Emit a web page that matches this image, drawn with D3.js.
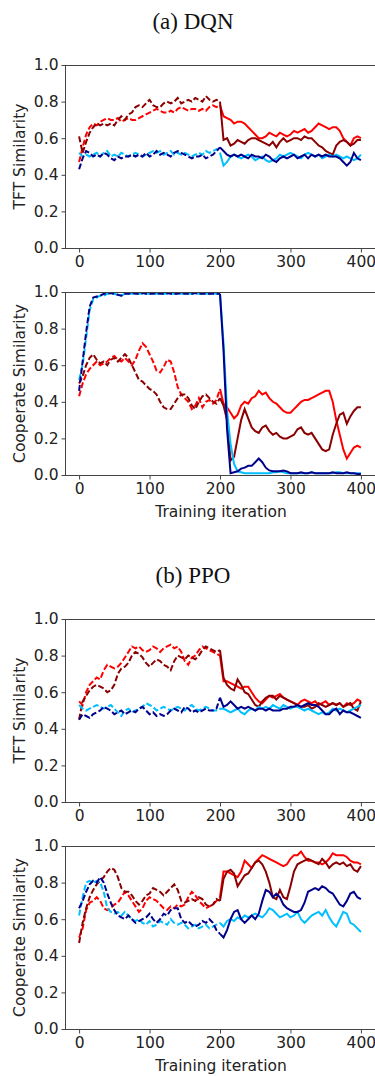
<!DOCTYPE html>
<html>
<head>
<meta charset="utf-8">
<script src="https://cdn.jsdelivr.net/npm/d3@7"></script>
<style>
  body { margin: 0; background: #fff; }
  svg { display: block; }
  .tick text { font-family: "DejaVu Sans", sans-serif; font-size: 15.5px; fill: #222; }
</style>
</head>
<body>
<div id="viz"></div>
<script>
// x positions: training iteration, sampled every 5 steps
const iterations = d3.range(0, 401, 5);
const xTicks = [0, 100, 200, 300, 400];
const yTicks = [0, 0.2, 0.4, 0.6, 0.8, 1.0];

// (a) DQN - TFT similarity
const dqnTftRed = [
  0.47,0.55,0.62,0.66,0.68,0.67,0.69,0.70,0.71,0.70,
  0.70,0.71,0.69,0.70,0.71,0.70,0.70,0.71,0.72,0.73,
  0.74,0.75,0.76,0.75,0.74,0.74,0.75,0.74,0.76,0.77,
  0.76,0.75,0.76,0.76,0.75,0.76,0.75,0.77,0.78,0.77,
  0.78,
  0.72,0.71,0.70,0.68,0.69,0.69,0.68,0.66,0.64,
  0.62,0.60,0.60,0.61,0.63,0.62,0.61,0.63,0.62,0.61,
  0.62,0.64,0.63,0.64,0.65,0.63,0.64,0.66,0.68,0.67,
  0.66,0.65,0.66,0.66,0.64,0.60,0.58,0.56,0.60,0.61,
  0.60];
const dqnTftDarkRed = [
  0.61,0.52,0.58,0.63,0.66,0.68,0.67,0.68,0.67,0.68,
  0.67,0.70,0.72,0.70,0.73,0.74,0.77,0.78,0.77,0.79,
  0.81,0.78,0.77,0.77,0.79,0.80,0.79,0.80,0.82,0.79,
  0.80,0.81,0.80,0.82,0.81,0.80,0.83,0.81,0.80,0.81,
  0.80,
  0.59,0.60,0.56,0.57,0.59,0.58,0.57,0.59,0.60,
  0.60,0.59,0.58,0.57,0.56,0.58,0.55,0.58,0.60,0.58,
  0.59,0.60,0.60,0.59,0.61,0.60,0.60,0.58,0.56,0.55,
  0.53,0.52,0.51,0.56,0.58,0.59,0.58,0.56,0.57,0.59,
  0.59];
const dqnTftLightBlue = [
  0.52,0.50,0.51,0.50,0.51,0.52,0.50,0.52,0.53,0.50,
  0.51,0.50,0.52,0.51,0.50,0.51,0.52,0.51,0.50,0.51,
  0.52,0.53,0.52,0.53,0.51,0.52,0.53,0.51,0.52,0.51,
  0.52,0.51,0.50,0.51,0.52,0.51,0.53,0.52,0.53,0.54,
  0.52,
  0.45,0.47,0.50,0.51,0.50,0.49,0.50,0.51,0.50,
  0.48,0.49,0.50,0.48,0.47,0.48,0.49,0.51,0.50,0.51,
  0.52,0.51,0.50,0.49,0.51,0.52,0.51,0.50,0.51,0.49,
  0.50,0.51,0.50,0.51,0.50,0.49,0.50,0.49,0.48,0.49,
  0.51];
const dqnTftDarkBlue = [
  0.43,0.49,0.53,0.52,0.50,0.51,0.50,0.52,0.51,0.49,
  0.48,0.50,0.49,0.50,0.50,0.51,0.50,0.51,0.50,0.52,
  0.50,0.51,0.53,0.51,0.52,0.51,0.50,0.52,0.53,0.52,
  0.51,0.50,0.49,0.50,0.50,0.51,0.49,0.50,0.51,0.53,
  0.55,
  0.53,0.51,0.50,0.51,0.50,0.51,0.50,0.49,0.51,
  0.50,0.50,0.49,0.51,0.50,0.48,0.47,0.49,0.50,0.49,
  0.50,0.51,0.49,0.50,0.51,0.49,0.51,0.50,0.51,0.50,
  0.51,0.50,0.50,0.50,0.49,0.47,0.45,0.47,0.52,0.49,
  0.48];

// (a) DQN - cooperate similarity
const dqnCoopRed = [
  0.43,0.50,0.55,0.58,0.60,0.62,0.60,0.61,0.62,0.64,
  0.65,0.63,0.62,0.64,0.62,0.60,0.63,0.68,0.72,0.70,
  0.66,0.62,0.57,0.56,0.59,0.63,0.62,0.56,0.48,0.44,
  0.42,0.40,0.36,0.38,0.42,0.37,0.40,0.41,0.39,0.41,
  0.47,
  0.39,0.37,0.34,0.31,0.33,0.38,0.40,0.39,0.42,
  0.43,0.46,0.44,0.45,0.42,0.40,0.39,0.37,0.35,0.34,
  0.34,0.36,0.38,0.40,0.41,0.41,0.42,0.43,0.44,0.45,
  0.46,0.46,0.40,0.30,0.22,0.14,0.09,0.12,0.15,0.16,
  0.15];
const dqnCoopDarkRed = [
  0.50,0.54,0.60,0.64,0.66,0.63,0.61,0.62,0.60,0.63,
  0.64,0.62,0.64,0.66,0.64,0.60,0.56,0.52,0.51,0.49,
  0.47,0.46,0.44,0.40,0.37,0.36,0.36,0.39,0.42,0.44,
  0.44,0.42,0.38,0.36,0.40,0.43,0.44,0.42,0.40,0.39,
  0.42,
  0.38,0.30,0.08,0.10,0.20,0.30,0.36,0.31,0.26,
  0.24,0.23,0.26,0.27,0.24,0.22,0.23,0.21,0.20,0.20,
  0.21,0.22,0.25,0.26,0.23,0.22,0.23,0.20,0.17,0.14,
  0.13,0.14,0.22,0.28,0.33,0.34,0.28,0.32,0.35,0.37,
  0.37];
const dqnCoopLightBlue = [
  0.52,0.60,0.75,0.90,0.96,0.97,0.98,0.98,0.99,0.99,
  0.99,0.985,0.98,0.99,0.99,0.99,0.99,0.99,0.99,0.99,
  0.99,0.99,0.99,0.99,0.99,0.99,0.99,0.99,0.99,0.99,
  0.99,0.99,0.99,0.99,0.99,0.99,0.99,0.99,0.99,0.99,
  0.99,
  0.72,0.35,0.17,0.06,0.02,0.015,0.01,0.01,0.01,
  0.01,0.01,0.01,0.01,0.01,0.015,0.015,0.02,0.015,0.01,
  0.01,0.01,0.01,0.01,0.01,0.01,0.015,0.01,0.01,0.01,
  0.01,0.01,0.01,0.015,0.015,0.01,0.01,0.01,0.01,0.01,
  0.01];
const dqnCoopDarkBlue = [
  0.46,0.62,0.78,0.92,0.97,0.975,0.98,0.99,0.99,0.995,
  0.99,0.985,0.98,0.99,0.99,0.995,0.99,0.99,0.995,0.99,
  0.99,0.99,0.995,0.99,0.99,0.995,0.99,0.99,0.99,0.995,
  0.99,0.99,0.99,0.995,0.99,0.99,0.99,0.99,0.99,0.99,
  0.99,
  0.68,0.25,0.01,0.015,0.02,0.035,0.04,0.05,0.05,
  0.07,0.09,0.07,0.04,0.025,0.02,0.02,0.02,0.025,0.02,
  0.01,0.01,0.01,0.015,0.01,0.01,0.015,0.01,0.01,0.01,
  0.01,0.01,0.015,0.01,0.01,0.01,0.015,0.01,0.01,0.005,
  0.005];

// (b) PPO - TFT similarity
const ppoTftRed = [
  0.55,0.53,0.60,0.64,0.66,0.68,0.67,0.72,0.75,0.74,
  0.73,0.74,0.76,0.79,0.82,0.85,0.84,0.85,0.83,0.82,
  0.83,0.85,0.84,0.82,0.84,0.85,0.86,0.84,0.85,0.82,
  0.77,0.75,0.79,0.80,0.83,0.85,0.84,0.83,0.82,0.81,
  0.80,
  0.66,0.66,0.65,0.64,0.63,0.62,0.63,0.63,0.60,
  0.57,0.55,0.54,0.56,0.58,0.57,0.58,0.59,0.57,0.56,
  0.55,0.54,0.53,0.55,0.56,0.55,0.54,0.55,0.53,0.54,
  0.55,0.53,0.54,0.53,0.54,0.52,0.54,0.53,0.54,0.56,
  0.55];
const ppoTftDarkRed = [
  0.45,0.55,0.58,0.61,0.63,0.64,0.63,0.62,0.60,0.61,
  0.64,0.70,0.73,0.74,0.76,0.80,0.82,0.81,0.79,0.76,
  0.74,0.76,0.78,0.77,0.75,0.74,0.72,0.77,0.80,0.79,
  0.78,0.80,0.79,0.78,0.80,0.83,0.85,0.84,0.83,0.82,
  0.83,
  0.68,0.64,0.62,0.61,0.67,0.64,0.60,0.59,0.56,
  0.53,0.52,0.55,0.57,0.58,0.58,0.56,0.58,0.57,0.56,
  0.55,0.54,0.53,0.52,0.52,0.53,0.51,0.52,0.54,0.53,
  0.52,0.53,0.54,0.53,0.54,0.52,0.53,0.54,0.51,0.50,
  0.55];
const ppoTftLightBlue = [
  0.53,0.51,0.50,0.51,0.52,0.53,0.52,0.51,0.52,0.53,
  0.51,0.49,0.47,0.50,0.51,0.49,0.50,0.51,0.52,0.54,
  0.53,0.52,0.50,0.51,0.52,0.51,0.50,0.51,0.52,0.51,
  0.50,0.52,0.53,0.51,0.50,0.51,0.52,0.51,0.50,0.50,
  0.51,
  0.51,0.50,0.49,0.50,0.51,0.49,0.48,0.50,0.51,
  0.50,0.52,0.51,0.52,0.51,0.53,0.52,0.51,0.53,0.52,
  0.51,0.52,0.52,0.51,0.50,0.51,0.50,0.49,0.48,0.49,
  0.48,0.49,0.51,0.50,0.51,0.50,0.49,0.50,0.51,0.52,
  0.53];
const ppoTftDarkBlue = [
  0.45,0.48,0.47,0.46,0.48,0.49,0.50,0.52,0.51,0.50,
  0.48,0.49,0.50,0.48,0.49,0.50,0.49,0.51,0.52,0.50,
  0.48,0.49,0.47,0.48,0.47,0.48,0.50,0.51,0.50,0.49,
  0.52,0.51,0.49,0.50,0.49,0.50,0.51,0.50,0.50,0.51,
  0.57,
  0.52,0.53,0.55,0.53,0.51,0.52,0.51,0.52,0.51,
  0.50,0.51,0.51,0.50,0.51,0.50,0.50,0.50,0.51,0.51,
  0.52,0.52,0.53,0.52,0.53,0.54,0.53,0.53,0.52,0.50,
  0.48,0.48,0.50,0.51,0.48,0.50,0.49,0.49,0.48,0.47,
  0.46];

// (b) PPO - cooperate similarity
const ppoCoopRed = [
  0.50,0.55,0.65,0.69,0.70,0.72,0.70,0.66,0.65,0.66,
  0.68,0.69,0.72,0.75,0.73,0.70,0.67,0.64,0.66,0.70,
  0.72,0.71,0.70,0.68,0.66,0.65,0.67,0.66,0.68,0.67,
  0.68,0.72,0.75,0.73,0.70,0.68,0.66,0.67,0.68,0.70,
  0.72,
  0.86,0.86,0.85,0.84,0.83,0.86,0.92,0.90,0.88,
  0.91,0.93,0.95,0.94,0.93,0.92,0.91,0.90,0.89,0.90,
  0.93,0.95,0.95,0.97,0.94,0.92,0.92,0.91,0.91,0.90,
  0.91,0.93,0.96,0.95,0.95,0.95,0.94,0.92,0.91,0.91,
  0.90];
const ppoCoopDarkRed = [
  0.47,0.58,0.66,0.72,0.76,0.79,0.81,0.83,0.86,0.88,
  0.87,0.83,0.77,0.75,0.75,0.73,0.70,0.68,0.70,0.73,
  0.74,0.77,0.76,0.75,0.73,0.75,0.77,0.79,0.76,0.70,
  0.69,0.70,0.71,0.70,0.72,0.71,0.68,0.67,0.68,0.71,
  0.70,
  0.82,0.86,0.87,0.85,0.78,0.81,0.84,0.85,0.88,
  0.91,0.92,0.90,0.86,0.80,0.72,0.71,0.76,0.72,0.71,
  0.78,0.86,0.90,0.91,0.92,0.93,0.92,0.91,0.90,0.93,
  0.91,0.88,0.90,0.91,0.90,0.91,0.89,0.90,0.87,0.86,
  0.89];
const ppoCoopLightBlue = [
  0.62,0.72,0.80,0.81,0.80,0.81,0.80,0.75,0.66,0.64,
  0.63,0.64,0.62,0.64,0.62,0.60,0.59,0.60,0.58,0.57,
  0.59,0.56,0.57,0.59,0.58,0.57,0.60,0.58,0.57,0.58,
  0.57,0.55,0.56,0.57,0.55,0.56,0.57,0.55,0.56,0.57,
  0.58,
  0.56,0.59,0.60,0.59,0.61,0.60,0.62,0.61,0.62,
  0.63,0.62,0.61,0.63,0.66,0.65,0.63,0.61,0.62,0.63,
  0.61,0.62,0.64,0.60,0.58,0.60,0.62,0.63,0.64,0.62,
  0.65,0.61,0.58,0.56,0.60,0.64,0.63,0.58,0.57,0.55,
  0.53];
const ppoCoopDarkBlue = [
  0.66,0.70,0.75,0.79,0.81,0.80,0.83,0.80,0.74,0.69,
  0.65,0.62,0.61,0.60,0.62,0.60,0.58,0.59,0.60,0.61,
  0.63,0.60,0.58,0.60,0.63,0.62,0.65,0.66,0.66,0.60,
  0.58,0.59,0.57,0.56,0.57,0.59,0.58,0.60,0.58,0.54,
  0.52,
  0.50,0.54,0.60,0.64,0.65,0.60,0.58,0.60,0.62,
  0.60,0.63,0.70,0.76,0.75,0.72,0.74,0.72,0.68,0.66,
  0.65,0.64,0.64,0.65,0.69,0.75,0.76,0.77,0.76,0.78,
  0.77,0.75,0.74,0.71,0.68,0.67,0.70,0.74,0.75,0.72,
  0.71];

const colors = { red: '#ff0000', darkRed: '#8b0000', lightBlue: '#00bfff', darkBlue: '#00008b' };

const panels = [
  { title: '(a) DQN', titleY: 21, top: 65, ylabel: 'TFT Similarity', xlabel: false,
    series: [[dqnTftRed, colors.red], [dqnTftDarkRed, colors.darkRed], [dqnTftLightBlue, colors.lightBlue], [dqnTftDarkBlue, colors.darkBlue]] },
  { top: 292, ylabel: 'Cooperate Similarity', xlabel: true,
    series: [[dqnCoopRed, colors.red], [dqnCoopDarkRed, colors.darkRed], [dqnCoopLightBlue, colors.lightBlue], [dqnCoopDarkBlue, colors.darkBlue]] },
  { title: '(b) PPO', titleY: 575, top: 619, ylabel: 'TFT Similarity', xlabel: false,
    series: [[ppoTftRed, colors.red], [ppoTftDarkRed, colors.darkRed], [ppoTftLightBlue, colors.lightBlue], [ppoTftDarkBlue, colors.darkBlue]] },
  { top: 846, ylabel: 'Cooperate Similarity', xlabel: true,
    series: [[ppoCoopRed, colors.red], [ppoCoopDarkRed, colors.darkRed], [ppoCoopLightBlue, colors.lightBlue], [ppoCoopDarkBlue, colors.darkBlue]] }
];

const width = 375, height = 1076;
const plotLeft = 65, plotRight = 375, plotH = 183;
const split = iterations.indexOf(200);

const svg = d3.select('#viz').append('svg')
  .attr('width', width)
  .attr('height', height);

panels.forEach(p => {
  const x = d3.scaleLinear().domain([-20, 420]).range([plotLeft, plotRight]);
  const y = d3.scaleLinear().domain([0, 1]).range([p.top + plotH, p.top]);
  const g = svg.append('g');

  if (p.title) {
    svg.append('text')
      .attr('x', 193).attr('y', p.titleY)
      .attr('text-anchor', 'middle').attr('dominant-baseline', 'central')
      .attr('font-family', '"Liberation Serif", "Times New Roman", serif')
      .attr('font-size', 23).attr('fill', '#111')
      .text(p.title);
  }

  // lines: dashed for first half, solid for second half
  const line = d3.line()
    .x(d => x(d[0]))
    .y(d => y(d[1]));

  p.series.forEach(([vals, col]) => {
    const pts = iterations.map((it, i) => [it, vals[i]]);
    g.append('path')
      .datum(pts.slice(0, split + 1))
      .attr('d', line)
      .attr('fill', 'none')
      .attr('stroke', col)
      .attr('stroke-width', 2)
      .attr('stroke-dasharray', '6,2.5');
    g.append('path')
      .datum(pts.slice(split))
      .attr('d', line)
      .attr('fill', 'none')
      .attr('stroke', col)
      .attr('stroke-width', 2);
  });

  // frame
  svg.append('rect')
    .attr('x', plotLeft + 0.5).attr('y', p.top + 0.5)
    .attr('width', plotRight - plotLeft).attr('height', plotH)
    .attr('fill', 'none').attr('stroke', '#444').attr('stroke-width', 1);

  const yAxis = svg.append('g')
    .attr('transform', `translate(${plotLeft + 0.5},0)`)
    .call(d3.axisLeft(y).tickValues(yTicks).tickFormat(d3.format('.1f')).tickSize(4).tickPadding(3));
  yAxis.select('.domain').remove();

  const xAxis = svg.append('g')
    .attr('transform', `translate(0,${p.top + plotH + 0.5})`)
    .call(d3.axisBottom(x).tickValues(xTicks).tickSize(4).tickPadding(3));
  xAxis.select('.domain').remove();

  svg.selectAll('.tick line').attr('stroke', '#444');

  svg.append('text')
    .attr('transform', `translate(20,${p.top + plotH / 2}) rotate(-90)`)
    .attr('text-anchor', 'middle').attr('dominant-baseline', 'central')
    .attr('font-family', '"DejaVu Sans", sans-serif').attr('font-size', 15.5)
    .attr('fill', '#222')
    .text(p.ylabel);

  if (p.xlabel) {
    svg.append('text')
      .attr('x', (plotLeft + plotRight) / 2 + 1).attr('y', p.top + plotH + 37)
      .attr('text-anchor', 'middle').attr('dominant-baseline', 'central')
      .attr('font-family', '"DejaVu Sans", sans-serif').attr('font-size', 15.5)
      .attr('fill', '#222')
      .text('Training iteration');
  }
});
</script>
</body>
</html>
